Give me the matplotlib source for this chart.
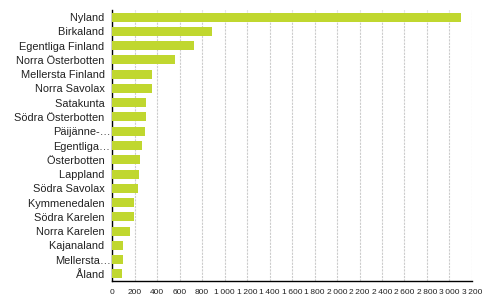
import matplotlib.pyplot as plt
import matplotlib.ticker as mticker

regions = [
    "Nyland", "Birkaland", "Egentliga Finland", "Norra Österbotten",
    "Mellersta Finland", "Norra Savolax", "Satakunta", "Södra Österbotten",
    "Päijänne-…", "Egentliga…", "Österbotten", "Lappland", "Södra Savolax",
    "Kymmenedalen", "Södra Karelen", "Norra Karelen", "Kajanaland",
    "Mellersta…", "Åland",
]
values = [3100, 890, 730, 560, 355, 355, 302, 302, 293, 267, 249, 240, 231,
          196, 196, 160, 98, 98, 89]
x_ticks = list(range(0, 3201, 200))

plt.rcParams["font.family"] = ["Liberation Sans", "DejaVu Sans"]

fig = plt.figure(figsize=(4.91, 3.02), dpi=100)
ax = fig.add_axes([112 / 491, 21 / 302, 360 / 491, 271 / 302])

ypos = list(range(len(regions)))
ax.barh(ypos, values, height=0.63, color="#c0d72f", zorder=3)
ax.set_ylim(len(regions) - 0.5, -0.5)
ax.set_xlim(0, 3200)

# full names leave a small gap before the axis, truncated ones run up to it
labels = [r if r.endswith("…") else r + "  " for r in regions]
ax.set_yticks(ypos)
ax.set_yticklabels(labels, fontsize=7.9, color="#222222")
ax.set_xticks(x_ticks)
ax.xaxis.set_major_formatter(
    mticker.FuncFormatter(lambda v, p: f"{int(v):,}".replace(",", "\u2009")))
ax.tick_params(axis="x", labelsize=6, length=0, pad=6, colors="#222222")
ax.tick_params(axis="y", length=0, pad=1)

ax.grid(axis="x", color="#cccccc", ls=(0, (2, 1)), lw=0.8, zorder=0)
for s in ["top", "right"]:
    ax.spines[s].set_visible(False)
for s in ["left", "bottom"]:
    ax.spines[s].set_color("black")
    ax.spines[s].set_linewidth(1.0)

fig.savefig("out.png", dpi=100)
